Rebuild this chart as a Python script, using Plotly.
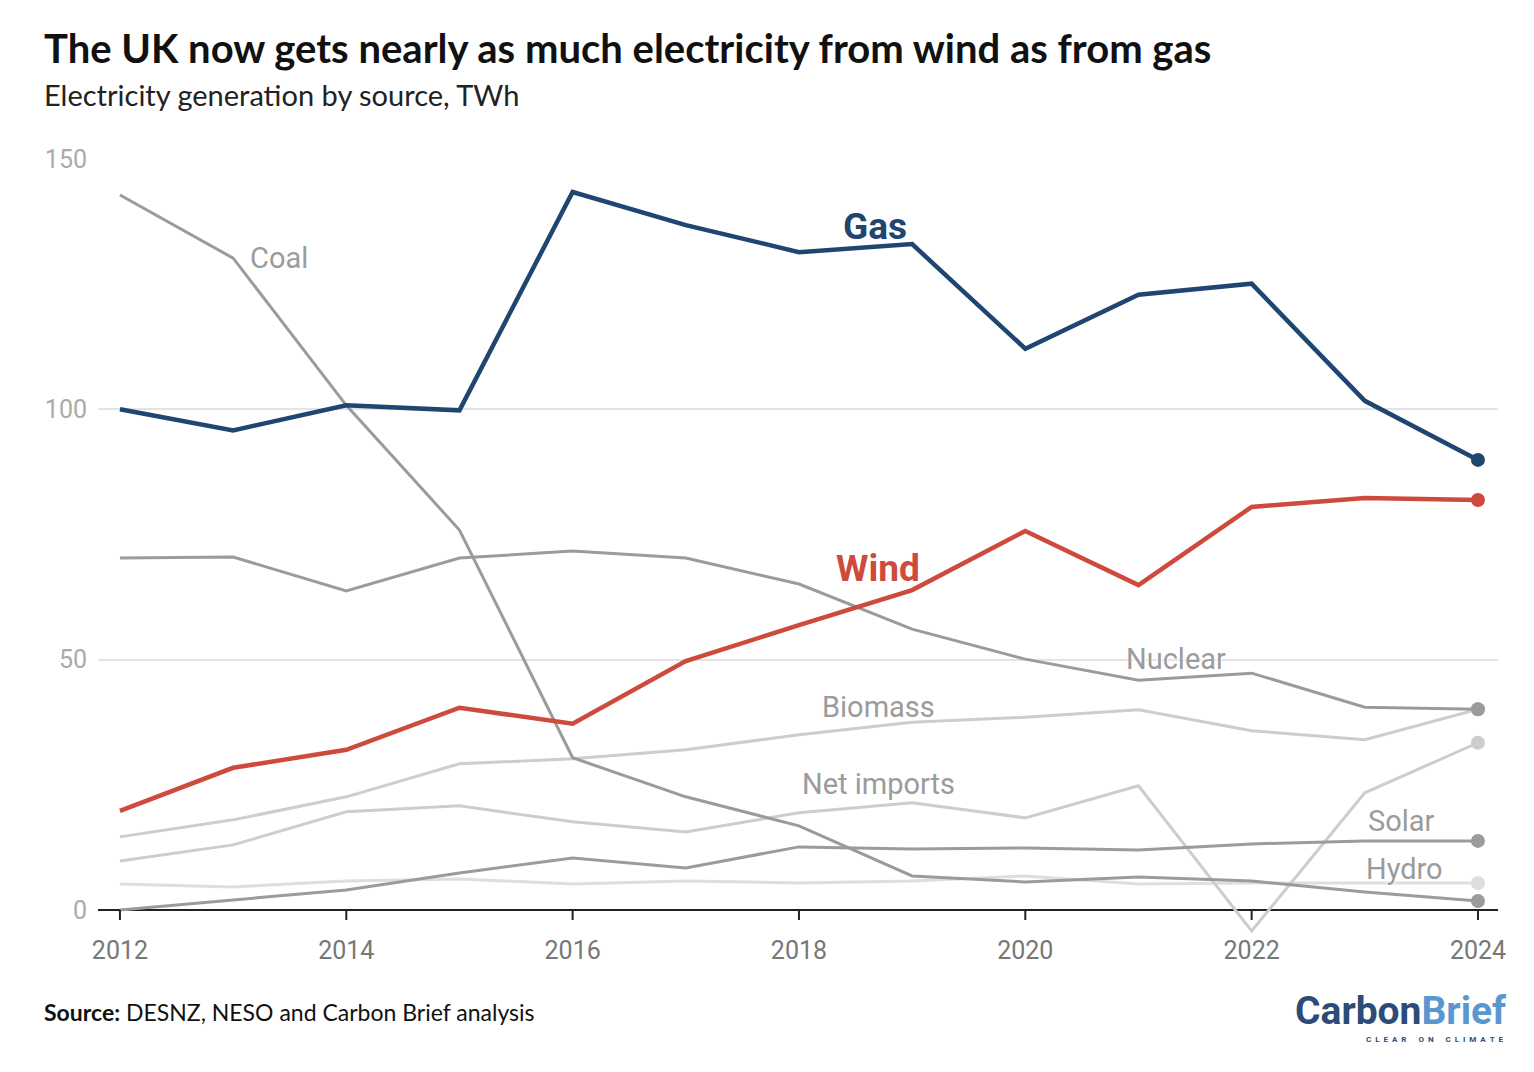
import plotly.graph_objects as go

years = list(range(2012, 2025))

gas = [100.0, 95.8, 100.8, 99.8, 143.4, 136.8, 131.4, 133.0, 112.1, 122.9, 125.1, 101.7, 89.9]
wind = [19.8, 28.4, 32.0, 40.4, 37.2, 49.7, 56.9, 63.9, 75.7, 64.9, 80.5, 82.3, 81.9]
coal = [142.8, 130.2, 100.8, 75.9, 30.4, 22.6, 16.8, 6.8, 5.6, 6.6, 5.8, 3.6, 1.8]
nuclear = [70.3, 70.5, 63.7, 70.3, 71.7, 70.3, 65.1, 56.1, 50.1, 45.9, 47.3, 40.5, 40.1]
biomass = [14.6, 18.0, 22.6, 29.2, 30.2, 32.0, 35.0, 37.5, 38.5, 40.0, 35.8, 34.0, 40.1]
net_imports = [9.8, 13.0, 19.6, 20.8, 17.6, 15.6, 19.4, 21.4, 18.4, 24.8, -4.2, 23.4, 33.4]
solar = [0.0, 2.0, 4.0, 7.4, 10.4, 8.4, 12.6, 12.2, 12.4, 12.0, 13.2, 13.8, 13.8]
hydro = [5.2, 4.6, 5.8, 6.2, 5.2, 5.8, 5.4, 5.8, 6.8, 5.2, 5.4, 5.4, 5.4]

x_ticks = [2012, 2014, 2016, 2018, 2020, 2022, 2024]
y_ticks = [0, 50, 100, 150]

NAVY = "#1f4571"
RED = "#cd4a3c"
GREY = "#9b9b9b"
LIGHT = "#cdcdcd"
LIGHTER = "#dedede"

# name, values, colour, width
series = [
    ("Hydro", hydro, LIGHTER, 3),
    ("Net imports", net_imports, LIGHT, 3),
    ("Biomass", biomass, LIGHT, 3),
    ("Solar", solar, GREY, 3),
    ("Coal", coal, GREY, 3),
    ("Nuclear", nuclear, GREY, 3),
    ("Wind", wind, RED, 4.5),
    ("Gas", gas, NAVY, 4.5),
]

fig = go.Figure()
for name, vals, col, w in series:
    fig.add_trace(go.Scatter(
        x=years, y=vals, mode="lines", name=name,
        line=dict(color=col, width=w), showlegend=False, hoverinfo="skip"))
    fig.add_trace(go.Scatter(
        x=[years[-1]], y=[vals[-1]], mode="markers",
        marker=dict(color=col, size=14), showlegend=False, hoverinfo="skip"))

# series labels: (text, x, y, colour, size, bold, xanchor)
labels = [
    ("Coal", 2013.13, 130.2, GREY, 29, False, "left"),
    ("Gas", 2018.67, 136.6, NAVY, 37, True, "center"),
    ("Wind", 2018.70, 68.3, RED, 37, True, "center"),
    ("Nuclear", 2021.33, 50.1, GREY, 29, False, "center"),
    ("Biomass", 2018.70, 40.5, GREY, 29, False, "center"),
    ("Net imports", 2018.70, 25.2, GREY, 29, False, "center"),
    ("Solar", 2023.32, 17.8, GREY, 29, False, "center"),
    ("Hydro", 2023.35, 8.2, GREY, 29, False, "center"),
]
for text, lx, ly, col, size, bold, xa in labels:
    fig.add_annotation(
        x=lx, y=ly, xref="x", yref="y", text=text, showarrow=False,
        xanchor=xa, yanchor="middle",
        font=dict(family="Roboto", size=size, color=col,
                  weight="bold" if bold else "normal",
                  shadow="0px 0px 3px white, 0px 0px 3px white, 0px 0px 2px white"))

# axis tick marks
for t in x_ticks:
    fig.add_shape(type="line", xref="x", yref="y", x0=t, x1=t, y0=0, y1=-2,
                  line=dict(color="#222222", width=2), layer="above")

W, H = 1534, 1072
OFF = 8  # page offset of the figure in the browser
L, R, T, B = 90, 44, 151, 147

def px(xs):
    return (xs - OFF - L) / (W - L - R)

def py(ys):
    return 1 - (ys - OFF - T) / (H - T - B)

fig.add_annotation(x=px(42), y=py(48), xref="paper", yref="paper", xanchor="left", yanchor="middle",
                   text="<b>The UK now gets nearly as much electricity from wind as from gas</b>",
                   showarrow=False, font=dict(family="Lato", size=40, color="#111111"))
fig.add_annotation(x=px(42), y=py(94), xref="paper", yref="paper", xanchor="left", yanchor="middle",
                   text="Electricity generation by source, TWh",
                   showarrow=False, font=dict(family="Lato", size=29, color="#222222"))
fig.add_annotation(x=px(42), y=py(1012), xref="paper", yref="paper", xanchor="left", yanchor="middle",
                   text="<b>Source:</b> DESNZ, NESO and Carbon Brief analysis",
                   showarrow=False, font=dict(family="Lato", size=23, color="#111111"))
fig.add_annotation(x=px(1508), y=py(1011), xref="paper", yref="paper", xanchor="right", yanchor="middle",
                   text="<b><span style='color:#2b4c78'>Carbon</span><span style='color:#5a97d0'>Brief</span></b>",
                   showarrow=False, font=dict(family="Roboto", size=39))
fig.add_annotation(x=px(1506), y=py(1039), xref="paper", yref="paper", xanchor="right", yanchor="middle",
                   text="C&nbsp;&nbsp;L&nbsp;&nbsp;E&nbsp;&nbsp;A&nbsp;&nbsp;R&nbsp;&nbsp;&nbsp;&nbsp;&nbsp;&nbsp;O&nbsp;&nbsp;N&nbsp;&nbsp;&nbsp;&nbsp;&nbsp;&nbsp;C&nbsp;&nbsp;L&nbsp;&nbsp;I&nbsp;&nbsp;M&nbsp;&nbsp;A&nbsp;&nbsp;T&nbsp;&nbsp;E",
                   showarrow=False, font=dict(family="Roboto", size=8, color="#2b4c78", weight="bold"))

fig.update_layout(
    width=W, height=H,
    margin=dict(l=L, r=R, t=T, b=B, pad=0),
    paper_bgcolor="white", plot_bgcolor="white",
    font=dict(family="Roboto", color=GREY),
    xaxis=dict(range=[2011.806, 2024.177], tickvals=x_ticks, showgrid=False,
               zeroline=False, showline=False, ticks="",
               tickfont=dict(family="Roboto", size=25, color="#777777"),
               ticklabelstandoff=0, fixedrange=True),
    yaxis=dict(range=[-4.6, 150], tickvals=y_ticks, showgrid=True,
               gridcolor="#e4e4e4", gridwidth=1.5,
               zeroline=True, zerolinecolor="#222222", zerolinewidth=2,
               showline=False, ticks="",
               tickfont=dict(family="Roboto", size=25, color="#aaaaaa"),
               ticklabelstandoff=10, fixedrange=True),
)

fig.write_html("out.html")
